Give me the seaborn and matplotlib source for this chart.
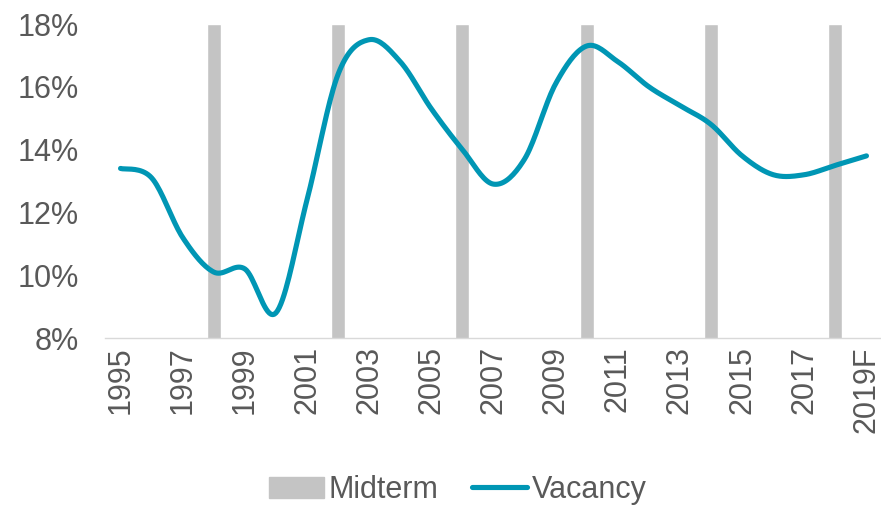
import numpy as np
import pandas as pd
import seaborn as sns
import matplotlib
matplotlib.use('Agg')
import matplotlib.pyplot as plt
from matplotlib.patches import Patch
from matplotlib.lines import Line2D

# data
years = ['1995', '1996', '1997', '1998', '1999', '2000', '2001', '2002', '2003', '2004',
         '2005', '2006', '2007', '2008', '2009', '2010', '2011', '2012', '2013', '2014',
         '2015', '2016', '2017', '2018', '2019F']
vacancy = [13.4, 13.1, 11.2, 10.1, 10.2, 8.8, 12.4, 16.4, 17.5, 16.8,
           15.3, 14.0, 12.9, 13.7, 16.1, 17.3, 16.8, 16.0, 15.4, 14.8,
           13.8, 13.2, 13.2, 13.5, 13.8]
midterm_years = ['1998', '2002', '2006', '2010', '2014', '2018']

sns.set_style('white')
plt.rcParams['font.family'] = ['Liberation Sans', 'DejaVu Sans']

df = pd.DataFrame({'year': years, 'vacancy': np.array(vacancy) / 100})
df['midterm'] = [0.18 if y in midterm_years else np.nan for y in years]

fig = plt.figure(figsize=(8.81, 5.08), dpi=100)
ax = fig.add_axes([105 / 881, 1 - 338 / 508, 777 / 881, 314 / 508])

sns.barplot(data=df, x='year', y='midterm', color='#C4C4C4', width=0.45,
            saturation=1, ax=ax, zorder=1)

# smoothed line (Catmull-Rom through the points, like Excel's smoothing)
xs = np.arange(len(years), dtype=float)
ys = df['vacancy'].values
px = np.concatenate([[xs[0]], xs, [xs[-1]]])
py = np.concatenate([[ys[0]], ys, [ys[-1]]])
sx, sy = [], []
t = np.linspace(0, 1, 20)
for i in range(1, len(px) - 2):
    for arr, out in ((px, sx), (py, sy)):
        p0, p1, p2, p3 = arr[i - 1], arr[i], arr[i + 1], arr[i + 2]
        out.extend(0.5 * ((2 * p1) + (-p0 + p2) * t + (2 * p0 - 5 * p1 + 4 * p2 - p3) * t ** 2
                          + (-p0 + 3 * p1 - 3 * p2 + p3) * t ** 3))
sns.lineplot(x=sx, y=sy, color='#0096B4', linewidth=3.7, sort=False, ax=ax, zorder=3,
             solid_capstyle='round')

ax.set_ylim(0.08, 0.18)
ax.set_xlim(-0.5, len(years) - 0.5)
ax.set_yticks(np.arange(0.08, 0.181, 0.02))
ax.set_yticklabels(['8%', '10%', '12%', '14%', '16%', '18%'])
ax.set_xticks(range(0, len(years), 2))
ax.set_xticklabels(years[::2], rotation=90)
ax.tick_params(axis='both', labelsize=22, colors='#595959', length=0)
ax.tick_params(axis='y', pad=19)
ax.tick_params(axis='x', pad=6)
ax.set_xlabel('')
ax.set_ylabel('')
for s in ['top', 'right', 'left']:
    ax.spines[s].set_visible(False)
ax.spines['bottom'].set_color('#D9D9D9')
ax.spines['bottom'].set_linewidth(1)

handles = [Patch(color='#C4C4C4', label='Midterm'),
           Line2D([0], [0], color='#0096B4', lw=3.7, label='Vacancy', solid_capstyle='round')]
fig.legend(handles=handles, loc='center', bbox_to_anchor=(458 / 881, 1 - 490 / 508), ncol=2,
           frameon=False, fontsize=22, labelcolor='#595959', handlelength=1.8,
           handletextpad=0.15, columnspacing=1.1)

fig.savefig('out.png', dpi=100)
